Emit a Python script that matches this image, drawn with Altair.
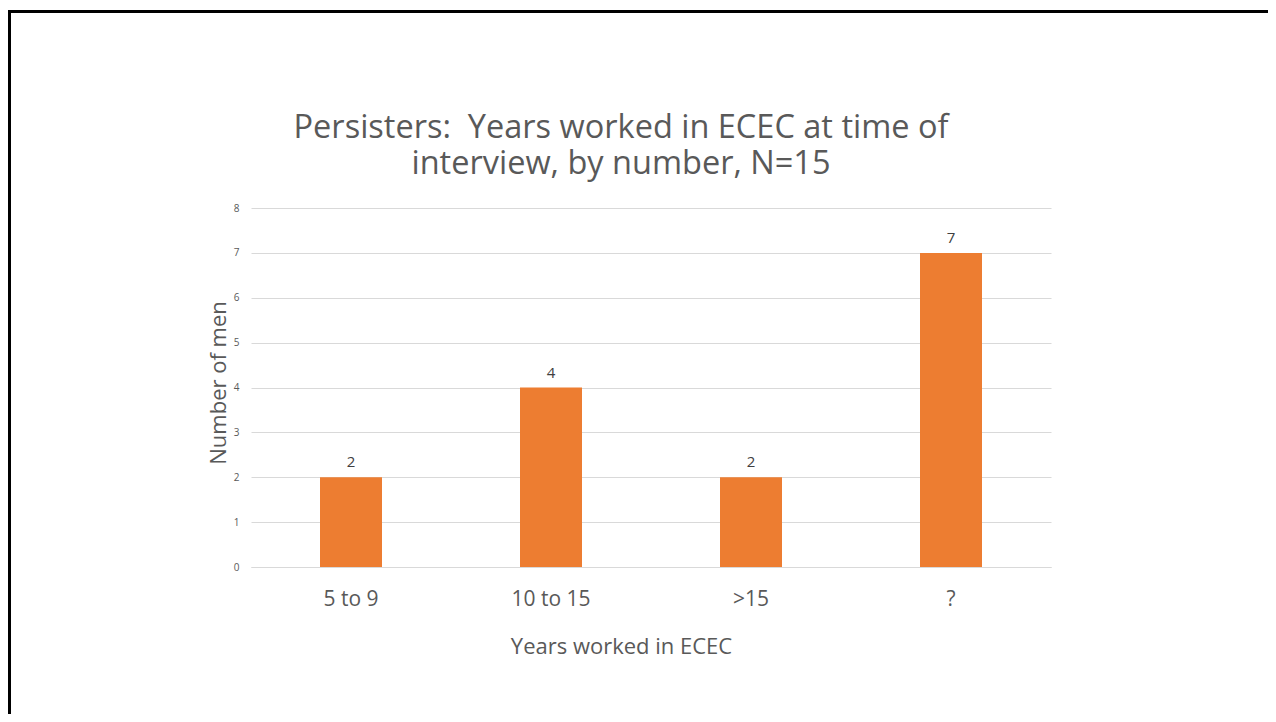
import altair as alt
import pandas as pd

categories = ["5 to 9", "10 to 15", ">15", "?"]
counts = [2, 4, 2, 7]

title_lines = ["Persisters:\u00a0 Years worked in ECEC at time of", "interview, by number, N=15"]
x_title = "Years worked in ECEC"
y_title = "Number of men"

FONT = "Open Sans"
TEXT = "#595959"

df = pd.DataFrame({"cat": categories, "n": counts})

x_enc = alt.X(
    "cat:N",
    sort=categories,
    scale=alt.Scale(paddingInner=0.69, paddingOuter=0.345),
    axis=alt.Axis(
        title=x_title,
        titleFont=FONT,
        titleFontSize=22,
        titleFontWeight="normal",
        titleColor=TEXT,
        titleX=370,
        titleY=86,
        titleBaseline="alphabetic",
        titleAlign="center",
        labelFont=FONT,
        labelFontSize=21,
        labelColor=TEXT,
        labelAngle=0,
        labelBaseline="alphabetic",
        labelPadding=38,
        ticks=False,
        tickSize=0,
        domain=True,
        domainColor="#d9d9d9",
        domainWidth=1,
        grid=False,
    ),
)

y_enc = alt.Y(
    "n:Q",
    scale=alt.Scale(domain=[0, 8], nice=False),
    axis=alt.Axis(
        title=y_title,
        titleFont=FONT,
        titleFontSize=22,
        titleFontWeight="normal",
        titleColor=TEXT,
        titleAngle=-90,
        titleX=-26,
        titleY=174.5,
        titleAlign="center",
        titleBaseline="alphabetic",
        values=[0, 1, 2, 3, 4, 5, 6, 7, 8],
        labelFont=FONT,
        labelFontSize=10,
        labelColor=TEXT,
        labelPadding=12,
        ticks=False,
        tickSize=0,
        domain=False,
        grid=True,
        gridColor="#d9d9d9",
        gridWidth=1,
    ),
)

bars = alt.Chart(df).mark_bar(color="#ED7D31").encode(x=x_enc, y=y_enc)

labels = alt.Chart(df).mark_text(
    font=FONT, fontSize=15, color="#404040", baseline="alphabetic", dy=-10
).encode(x=alt.X("cat:N", sort=categories), y="n:Q", text="n:Q")

title_text = alt.Chart(pd.DataFrame({"k": [0]})).mark_text(
    text=title_lines,
    font=FONT,
    fontSize=32.5,
    color=TEXT,
    align="center",
    baseline="alphabetic",
    lineHeight=36,
).encode(x=alt.value(370), y=alt.value(-70))

frame = alt.Chart(pd.DataFrame({"k": [0]})).mark_rect(
    fill=None, stroke="#000000", strokeWidth=3
).encode(
    x=alt.value(-241.5), x2=alt.value(1300), y=alt.value(-196.5), y2=alt.value(700)
)

chart = alt.layer(frame, bars, labels, title_text).properties(
    width=800,
    height=359,
    autosize=alt.AutoSizeParams(type="none"),
    padding={"left": 243, "top": 200, "right": 217, "bottom": 147},
).configure_view(stroke=None)

chart.save("out.html", embed_options={"renderer": "svg", "actions": False})
